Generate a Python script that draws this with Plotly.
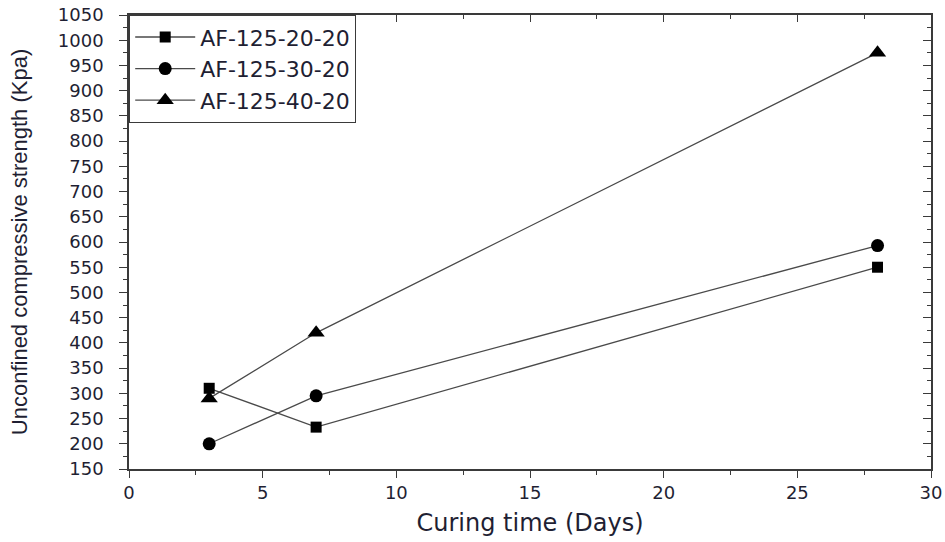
import plotly.graph_objects as go

# Curing time (days) and unconfined compressive strength (kPa) per mix
curing_days = [3, 7, 28]
series_names = ["AF-125-20-20", "AF-125-30-20", "AF-125-40-20"]
ucs_20 = [310, 233, 550]
ucs_30 = [200, 295, 593]
ucs_40 = [290, 420, 975]

x_ticks = [0, 5, 10, 15, 20, 25, 30]
y_ticks = list(range(150, 1051, 50))

symbols = ["square", "circle", "triangle-up"]
sizes = [11, 13, 15]
values = [ucs_20, ucs_30, ucs_40]

wide_font = "DejaVu Sans, Verdana, sans-serif"
title_font = "Liberation Sans, Arial, sans-serif"
axis_color = "#3a3a3a"
text_color = "#1f1f33"

fig = go.Figure()
for name, ys, sym, sz in zip(series_names, values, symbols, sizes):
    fig.add_trace(go.Scatter(
        x=curing_days, y=ys, name=name, mode="lines+markers",
        line=dict(color="#4a4a4a", width=1.3),
        marker=dict(symbol=sym, size=sz, color="black"),
    ))

# invisible helper trace so the mirrored top/right axes are drawn
fig.add_trace(go.Scatter(x=[None], y=[None], xaxis="x2", yaxis="y2",
                         showlegend=False, hoverinfo="skip"))

common = dict(showline=True, linecolor=axis_color, linewidth=1.6,
              showgrid=False, zeroline=False, tickcolor=axis_color,
              automargin=False)

fig.update_layout(
    width=945, height=542,
    margin=dict(l=129, r=14, t=15, b=73),
    paper_bgcolor="white", plot_bgcolor="white",
    font=dict(family=wide_font, color=text_color),
    xaxis=dict(
        range=[0, 30], tickvals=x_ticks, ticks="outside", ticklen=7, tickwidth=1.4,
        minor=dict(ticks="outside", dtick=2.5, tick0=0, ticklen=4, tickcolor=axis_color),
        tickfont=dict(size=18, color=text_color, family=wide_font),
        title=dict(text="Curing time (Days)",
                   font=dict(size=24, color=text_color, family=wide_font), standoff=12),
        **common,
    ),
    yaxis=dict(
        range=[150, 1050], tickvals=y_ticks, ticks="outside", ticklen=8, tickwidth=1.4,
        ticklabelstandoff=12,
        minor=dict(ticks="outside", dtick=25, tick0=150, ticklen=4, tickcolor=axis_color),
        tickfont=dict(size=18, color=text_color, family=wide_font),
        title=dict(text="Unconfined compressive strength (Kpa)",
                   font=dict(size=22, color=text_color, family=title_font), standoff=24),
        **common,
    ),
    xaxis2=dict(
        overlaying="x", side="top", anchor="y", range=[0, 30], tickvals=x_ticks,
        ticks="inside", ticklen=7, tickwidth=1.4, showticklabels=False,
        minor=dict(ticks="inside", dtick=2.5, tick0=0, ticklen=4, tickcolor=axis_color),
        **common,
    ),
    yaxis2=dict(
        overlaying="y", side="right", anchor="x", range=[150, 1050], tickvals=y_ticks,
        ticks="inside", ticklen=8, tickwidth=1.4, showticklabels=False,
        minor=dict(ticks="inside", dtick=25, tick0=150, ticklen=4, tickcolor=axis_color),
        **common,
    ),
    legend=dict(
        x=0, y=1, xanchor="left", yanchor="top",
        bordercolor=axis_color, borderwidth=1.2, bgcolor="white",
        font=dict(size=22, color=text_color, family=wide_font), tracegroupgap=0,
        itemwidth=60,
    ),
    showlegend=True,
)

fig.write_html("out.html")
